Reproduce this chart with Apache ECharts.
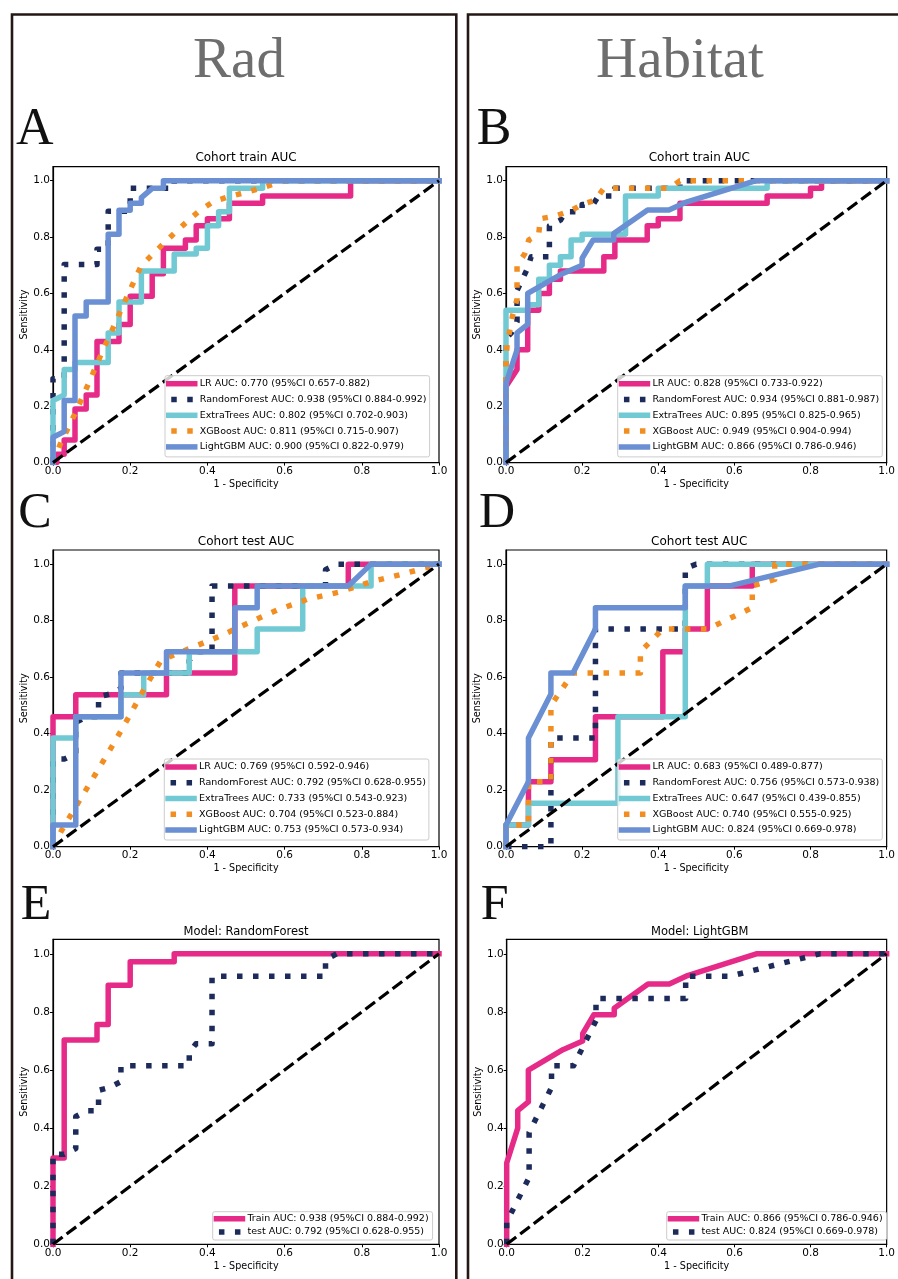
<!DOCTYPE html>
<html><head><meta charset="utf-8">
<script src="https://cdn.jsdelivr.net/npm/echarts@6/dist/echarts.min.js"></script>
<style>html,body{margin:0;padding:0;background:#fff}#c{width:898px;height:1279px}</style>
</head><body><div id="c"></div>
<script>
// ---------- DATA ----------
const tickValues = [0, 0.2, 0.4, 0.6, 0.8, 1.0];
const chanceLine = [[0, 0], [1, 1]];

// A: Rad, train cohort
const radTrainLR = [[0,0],[0.01,0],[0.01,0.03],[0.029,0.03],[0.029,0.08],[0.057,0.08],[0.057,0.19],[0.086,0.19],[0.086,0.24],[0.114,0.24],[0.114,0.43],[0.171,0.43],[0.171,0.49],[0.2,0.49],[0.2,0.59],[0.257,0.59],[0.257,0.67],[0.286,0.67],[0.286,0.76],[0.343,0.76],[0.343,0.79],[0.371,0.79],[0.371,0.84],[0.4,0.84],[0.4,0.865],[0.457,0.865],[0.457,0.92],[0.543,0.92],[0.543,0.946],[0.771,0.946],[0.771,1],[1,1]];
const radTrainRF = [[0,0],[0,0.297],[0.029,0.297],[0.029,0.703],[0.114,0.703],[0.114,0.757],[0.143,0.757],[0.143,0.892],[0.2,0.892],[0.2,0.973],[0.314,0.973],[0.314,1],[1,1]];
const radTrainET = [[0,0],[0,0.22],[0.029,0.24],[0.029,0.33],[0.057,0.33],[0.057,0.355],[0.143,0.355],[0.143,0.46],[0.171,0.46],[0.171,0.57],[0.229,0.57],[0.229,0.68],[0.314,0.68],[0.314,0.74],[0.371,0.74],[0.371,0.76],[0.4,0.76],[0.4,0.84],[0.429,0.84],[0.429,0.89],[0.457,0.89],[0.457,0.973],[0.543,0.973],[0.543,1],[1,1]];
const radTrainXGB = [[0,0],[0.019,0.066],[0.055,0.168],[0.09,0.274],[0.124,0.382],[0.159,0.488],[0.193,0.593],[0.228,0.697],[0.256,0.736],[0.287,0.778],[0.317,0.817],[0.349,0.857],[0.38,0.894],[0.416,0.926],[0.455,0.943],[0.494,0.957],[0.537,0.973],[0.6,1],[1,1]];
const radTrainLGBM = [[0,0],[0,0.09],[0.029,0.11],[0.029,0.22],[0.057,0.22],[0.057,0.52],[0.086,0.52],[0.086,0.57],[0.143,0.57],[0.143,0.81],[0.171,0.81],[0.171,0.895],[0.2,0.895],[0.2,0.92],[0.229,0.92],[0.229,0.94],[0.257,0.973],[0.286,0.973],[0.286,1],[1,1]];

// B: Habitat, train cohort
const habTrainLR = [[0,0],[0,0.27],[0.029,0.33],[0.029,0.4],[0.057,0.4],[0.057,0.54],[0.086,0.54],[0.086,0.6],[0.114,0.6],[0.114,0.65],[0.143,0.65],[0.143,0.68],[0.257,0.68],[0.257,0.73],[0.286,0.73],[0.286,0.79],[0.371,0.79],[0.371,0.84],[0.4,0.84],[0.4,0.865],[0.457,0.865],[0.457,0.92],[0.686,0.92],[0.686,0.946],[0.8,0.946],[0.8,0.973],[0.829,0.973],[0.829,1],[1,1]];
const habTrainRF = [[0,0],[0,0.44],[0.014,0.46],[0.029,0.5],[0.029,0.61],[0.043,0.65],[0.057,0.69],[0.066,0.73],[0.114,0.73],[0.114,0.84],[0.143,0.86],[0.157,0.89],[0.2,0.89],[0.2,0.916],[0.229,0.916],[0.243,0.946],[0.286,0.946],[0.286,0.973],[0.457,0.973],[0.457,1],[1,1]];
const habTrainET = [[0,0],[0,0.54],[0.057,0.54],[0.057,0.56],[0.086,0.56],[0.086,0.65],[0.114,0.65],[0.114,0.7],[0.143,0.7],[0.143,0.73],[0.171,0.73],[0.171,0.79],[0.2,0.79],[0.2,0.81],[0.314,0.81],[0.314,0.946],[0.4,0.946],[0.4,0.973],[0.686,0.973],[0.686,1],[1,1]];
const habTrainXGB = [[0,0],[0,0.36],[0.003,0.42],[0.017,0.52],[0.029,0.58],[0.029,0.7],[0.049,0.74],[0.06,0.79],[0.086,0.81],[0.09,0.865],[0.13,0.875],[0.171,0.894],[0.2,0.916],[0.234,0.93],[0.257,0.973],[0.429,0.973],[0.457,1],[1,1]];
const habTrainLGBM = [[0,0],[0,0.28],[0.029,0.4],[0.029,0.46],[0.057,0.49],[0.057,0.6],[0.148,0.67],[0.2,0.7],[0.2,0.725],[0.229,0.79],[0.283,0.79],[0.283,0.813],[0.372,0.896],[0.428,0.896],[0.476,0.925],[0.657,1],[1,1]];

// C: Rad, test cohort
const radTestLR = [[0,0],[0,0.46],[0.059,0.46],[0.059,0.538],[0.294,0.538],[0.294,0.615],[0.471,0.615],[0.471,0.923],[0.765,0.923],[0.765,1],[1,1]];
const radTestRF = [[0,0],[0,0.31],[0.029,0.31],[0.059,0.33],[0.059,0.44],[0.088,0.46],[0.118,0.46],[0.118,0.53],[0.147,0.54],[0.176,0.56],[0.176,0.615],[0.353,0.615],[0.353,0.66],[0.37,0.69],[0.412,0.69],[0.412,0.923],[0.706,0.923],[0.706,0.98],[0.735,1],[1,1]];
const radTestET = [[0,0],[0,0.385],[0.059,0.385],[0.059,0.46],[0.176,0.46],[0.176,0.538],[0.235,0.538],[0.235,0.615],[0.353,0.615],[0.353,0.69],[0.529,0.69],[0.529,0.77],[0.647,0.77],[0.647,0.923],[0.824,0.923],[0.824,1],[1,1]];
const radTestXGB = [[0,0],[0.023,0.059],[0.068,0.162],[0.111,0.259],[0.155,0.36],[0.196,0.458],[0.237,0.56],[0.28,0.66],[0.382,0.717],[0.429,0.743],[0.503,0.79],[0.58,0.837],[0.658,0.875],[0.744,0.902],[0.822,0.937],[0.904,0.964],[1,1]];
const radTestLGBM = [[0,0],[0,0.077],[0.059,0.077],[0.059,0.46],[0.176,0.46],[0.176,0.615],[0.294,0.615],[0.294,0.69],[0.471,0.69],[0.471,0.846],[0.529,0.846],[0.529,0.923],[0.765,0.923],[0.824,1],[1,1]];

// D: Habitat, test cohort
const habTestLR = [[0,0],[0,0.077],[0.059,0.077],[0.059,0.23],[0.118,0.23],[0.118,0.308],[0.235,0.308],[0.235,0.46],[0.412,0.46],[0.412,0.69],[0.471,0.69],[0.471,0.77],[0.529,0.77],[0.529,0.923],[0.647,0.923],[0.647,1],[1,1]];
const habTestRF = [[0,0],[0.118,0],[0.118,0.385],[0.235,0.385],[0.235,0.77],[0.471,0.77],[0.471,0.985],[0.5,1],[1,1]];
const habTestET = [[0,0],[0,0.077],[0.059,0.077],[0.059,0.154],[0.294,0.154],[0.294,0.46],[0.471,0.46],[0.471,0.923],[0.529,0.923],[0.529,1],[1,1]];
const habTestXGB = [[0,0],[0,0.077],[0.059,0.077],[0.059,0.23],[0.118,0.23],[0.118,0.5],[0.176,0.615],[0.353,0.615],[0.353,0.69],[0.412,0.77],[0.529,0.77],[0.647,0.846],[0.647,0.923],[0.706,0.946],[0.706,1],[1,1]];
const habTestLGBM = [[0,0],[0,0.077],[0.059,0.23],[0.059,0.385],[0.118,0.54],[0.118,0.615],[0.176,0.615],[0.235,0.77],[0.235,0.846],[0.471,0.846],[0.471,0.923],[0.588,0.923],[0.824,1],[1,1]];

// legend labels
const legendA = ['LR AUC: 0.770 (95%CI 0.657-0.882)','RandomForest AUC: 0.938 (95%CI 0.884-0.992)','ExtraTrees AUC: 0.802 (95%CI 0.702-0.903)','XGBoost AUC: 0.811 (95%CI 0.715-0.907)','LightGBM AUC: 0.900 (95%CI 0.822-0.979)'];
const legendB = ['LR AUC: 0.828 (95%CI 0.733-0.922)','RandomForest AUC: 0.934 (95%CI 0.881-0.987)','ExtraTrees AUC: 0.895 (95%CI 0.825-0.965)','XGBoost AUC: 0.949 (95%CI 0.904-0.994)','LightGBM AUC: 0.866 (95%CI 0.786-0.946)'];
const legendC = ['LR AUC: 0.769 (95%CI 0.592-0.946)','RandomForest AUC: 0.792 (95%CI 0.628-0.955)','ExtraTrees AUC: 0.733 (95%CI 0.543-0.923)','XGBoost AUC: 0.704 (95%CI 0.523-0.884)','LightGBM AUC: 0.753 (95%CI 0.573-0.934)'];
const legendD = ['LR AUC: 0.683 (95%CI 0.489-0.877)','RandomForest AUC: 0.756 (95%CI 0.573-0.938)','ExtraTrees AUC: 0.647 (95%CI 0.439-0.855)','XGBoost AUC: 0.740 (95%CI 0.555-0.925)','LightGBM AUC: 0.824 (95%CI 0.669-0.978)'];
const legendE = ['Train AUC: 0.938 (95%CI 0.884-0.992)','test AUC: 0.792 (95%CI 0.628-0.955)'];
const legendF = ['Train AUC: 0.866 (95%CI 0.786-0.946)','test AUC: 0.824 (95%CI 0.669-0.978)'];
const panelTitles = ['Cohort train AUC','Cohort train AUC','Cohort test AUC','Cohort test AUC','Model: RandomForest','Model: LightGBM'];
const panelLetters = ['A','B','C','D','E','F'];
const headers = ['Rad','Habitat'];

// ---------- STYLE / LAYOUT ----------
const DOT = [5.5, 10.5];
const ST = {
  LR:   {color:'#E52B87', type:'solid'},
  RF:   {color:'#1D2B5B', type:DOT},
  ET:   {color:'#71C9D4', type:'solid'},
  XGB:  {color:'#F28E21', type:DOT},
  LGBM: {color:'#6A8FD3', type:'solid'}
};
const modelKeys = ['LR','RF','ET','XGB','LGBM'];

const panels = [
  {grid:{left:53, top:166.6, width:386, height:296}, title:{x:246, y:158.3, fs:12}, letter:{x:16, y:130.5, fs:52},
   legend:{left:165, top:375.7, gap:5.8, pad:[3,3,5,1]}, names:legendA, curves:[radTrainLR,radTrainRF,radTrainET,radTrainXGB,radTrainLGBM], keys:modelKeys},
  {grid:{left:506, top:166.6, width:386.7, height:296}, title:{x:699.3, y:158.3, fs:12}, letter:{x:476.7, y:130.5, fs:52},
   legend:{left:617.7, top:375.7, gap:5.8, pad:[3,3,5,1]}, names:legendB, curves:[habTrainLR,habTrainRF,habTrainET,habTrainXGB,habTrainLGBM], keys:modelKeys},
  {grid:{left:53, top:550, width:386, height:296.7}, title:{x:246, y:541.7, fs:12}, letter:{x:18.3, y:514, fs:50},
   legend:{left:164.3, top:759, gap:5.75, pad:[3,3,5,1]}, names:legendC, curves:[radTestLR,radTestRF,radTestET,radTestXGB,radTestLGBM], keys:modelKeys},
  {grid:{left:506, top:550, width:386.7, height:296.7}, title:{x:699.3, y:541.7, fs:12}, letter:{x:479, y:514, fs:50},
   legend:{left:617.7, top:759, gap:5.75, pad:[3,3,5,1]}, names:legendD, curves:[habTestLR,habTestRF,habTestET,habTestXGB,habTestLGBM], keys:modelKeys},
  {grid:{left:53, top:939.3, width:386, height:305}, title:{x:246, y:932.3, fs:11.5}, letter:{x:20.7, y:906, fs:50},
   legend:{left:212.7, top:1211.7, gap:3.3, pad:[2,4,3,1]}, names:legendE, curves:[radTrainRF,radTestRF], keys:['LR','RF']},
  {grid:{left:506.7, top:939.3, width:386, height:305}, title:{x:699.7, y:932.3, fs:11.5}, letter:{x:480.7, y:906, fs:50},
   legend:{left:666.7, top:1211.7, gap:3.3, pad:[2,4,3,1]}, names:legendF, curves:[habTrainLGBM,habTestLGBM], keys:['LR','RF']}
];

const FONT = 'DejaVu Sans';
const grids = [], xAxes = [], yAxes = [], series = [], legends = [], graphics = [];

// frames
graphics.push({type:'rect', z:0, shape:{x:12, y:14.5, width:444.3, height:1300}, style:{fill:'none', stroke:'#231815', lineWidth:2.6}});
graphics.push({type:'rect', z:0, shape:{x:468, y:14.5, width:460, height:1300}, style:{fill:'none', stroke:'#231815', lineWidth:2.6}});
// headers
graphics.push({type:'text', x:239, y:61.7, style:{text:headers[0], font:'57px "Liberation Serif"', fill:'#6E6E6E', align:'center', verticalAlign:'middle'}});
graphics.push({type:'text', x:680, y:61.7, style:{text:headers[1], font:'57px "Liberation Serif"', fill:'#6E6E6E', align:'center', verticalAlign:'middle'}});

panels.forEach((p, i) => {
  grids.push(Object.assign({show:true, borderColor:'#000', borderWidth:1.2, backgroundColor:'#fff', containLabel:false}, p.grid));
  xAxes.push({gridIndex:i, type:'value', min:0, max:1, interval:0.2,
    name:'1 - Specificity', nameLocation:'middle', nameGap:17,
    nameTextStyle:{fontFamily:FONT, fontSize:9.6, color:'#000'},
    axisLine:{show:true, onZero:false, lineStyle:{color:'#000', width:1.2}},
    splitLine:{show:false},
    axisTick:{show:true, inside:false, length:3, customValues:tickValues, lineStyle:{color:'#000', width:1}},
    axisLabel:{customValues:tickValues, formatter:v => v.toFixed(1), margin:3, fontFamily:FONT, fontSize:10.5, color:'#000'}
  });
  yAxes.push({gridIndex:i, type:'value', min:0, max:1.05, interval:0.2,
    name:'Sensitivity', nameLocation:'middle', nameGap:22, nameRotate:90,
    nameTextStyle:{fontFamily:FONT, fontSize:9.6, color:'#000'},
    axisLine:{show:true, onZero:false, lineStyle:{color:'#000', width:1.2}},
    splitLine:{show:false},
    axisTick:{show:true, inside:false, length:3, customValues:tickValues, lineStyle:{color:'#000', width:1}},
    axisLabel:{customValues:tickValues, formatter:v => v.toFixed(1), margin:3, fontFamily:FONT, fontSize:10.5, color:'#000'}
  });
  p.curves.forEach((data, k) => {
    const st = ST[p.keys[k]];
    const solid = st.type === 'solid';
    series.push({type:'line', name:p.names[k], data:data, xAxisIndex:i, yAxisIndex:i,
      symbol:'none', showSymbol:false, silent:true, clip:true, animation:false,
      lineStyle:{color:st.color, width:5.5, type:st.type, cap:solid ? 'square' : 'butt', join:'round'},
      itemStyle:{color:st.color}});
  });
  series.push({type:'line', name:'chance', data:chanceLine, xAxisIndex:i, yAxisIndex:i,
    symbol:'none', showSymbol:false, silent:true, clip:true, animation:false,
    lineStyle:{color:'#000', width:3.2, type:[12,5], cap:'butt'}});
  legends.push({orient:'vertical', left:p.legend.left, top:p.legend.top, data:p.names,
    itemWidth:26, itemHeight:10, itemGap:p.legend.gap, padding:p.legend.pad,
    backgroundColor:'rgba(255,255,255,0.8)', borderColor:'#cccccc', borderWidth:1, borderRadius:2,
    selectedMode:false,
    itemStyle:{color:'rgba(0,0,0,0)', borderColor:'rgba(0,0,0,0)', borderWidth:0, opacity:0},
    lineStyle:{width:5.5, dashOffset:-2.5},
    textStyle:{fontFamily:FONT, fontSize:9.5, color:'#000', lineHeight:10}});
  graphics.push({type:'text', x:p.title.x, y:p.title.y, style:{text:panelTitles[i], font:p.title.fs + 'px "DejaVu Sans"', fill:'#000', align:'center', verticalAlign:'middle'}});
  graphics.push({type:'text', x:p.letter.x, y:p.letter.y, style:{text:panelLetters[i], font:p.letter.fs + 'px "Liberation Serif"', fill:'#111', align:'left', verticalAlign:'middle'}});
});

const chart = echarts.init(document.getElementById('c'), null, {renderer:'canvas'});
chart.setOption({
  backgroundColor:'#fff',
  animation:false,
  textStyle:{fontFamily:FONT},
  grid:grids, xAxis:xAxes, yAxis:yAxes, series:series, legend:legends, graphic:graphics
});
</script>
</body></html>
